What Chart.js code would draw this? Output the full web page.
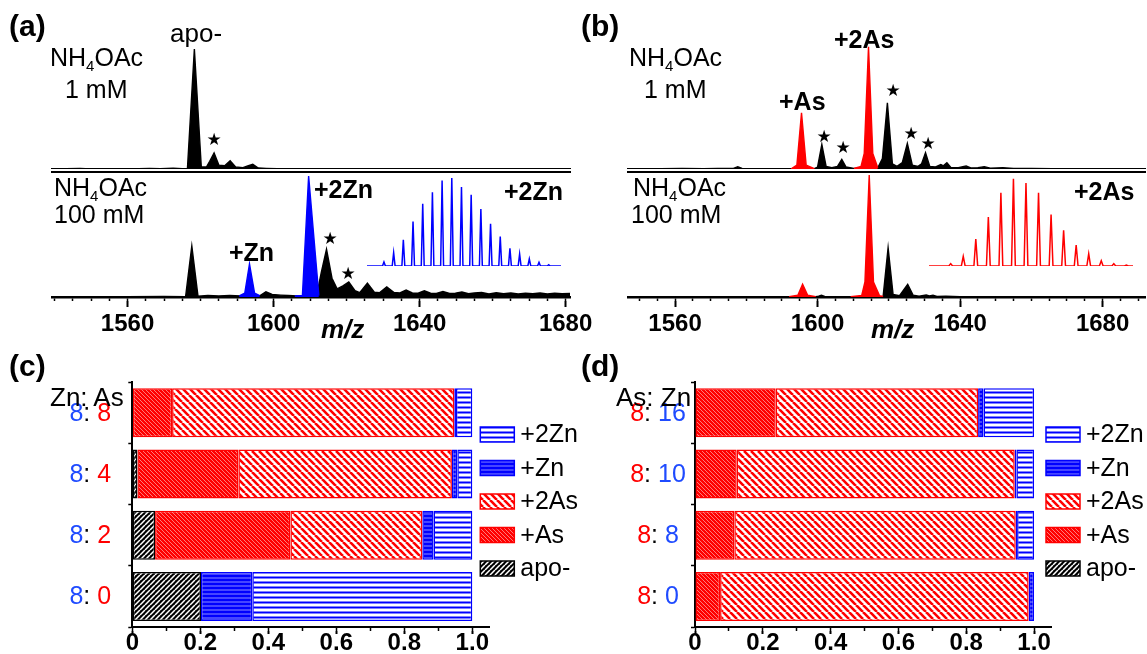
<!DOCTYPE html>
<html lang="en">
<head>
<meta charset="UTF-8">
<title>Zn / As binding - native MS and species fractions</title>
<script src="https://cdn.jsdelivr.net/npm/chart.js"></script>
<style>
    body { margin: 0; background: #fff; }
    #fig { position: relative; width: 1147px; height: 654px; overflow: hidden; background: #fff;
           font-family: Arial, "Liberation Sans", sans-serif; }
    #fig canvas { position: absolute; }
    .t { position: absolute; white-space: nowrap; line-height: 1; font-size: 25px; color: #000; }
    .b { font-weight: bold; }
    .pl { font-weight: bold; font-size: 30px; }
    .mz { font-weight: bold; font-style: italic; font-size: 26px; }
    .star { position: absolute; font-family: "DejaVu Sans", sans-serif; font-size: 17px; line-height: 1;
            transform: translate(-50%, -50%); }
    sub { font-size: 60%; vertical-align: -0.3em; line-height: 0; }
</style>
</head>
<body>
<div id="fig">
    <canvas id="aTop" width="600" height="129" style="left:0;top:40px"></canvas>
    <canvas id="aBot" width="600" height="180" style="left:0;top:170px"></canvas>
    <canvas id="aIso" width="198" height="102" style="left:365px;top:168px"></canvas>
    <canvas id="bTop" width="549" height="129" style="left:598px;top:40px"></canvas>
    <canvas id="bBot" width="549" height="180" style="left:598px;top:170px"></canvas>
    <canvas id="bIso" width="208" height="102" style="left:927px;top:168px"></canvas>
    <canvas id="cBar" width="583" height="300" style="left:0;top:360px"></canvas>
    <canvas id="dBar" width="564" height="300" style="left:583px;top:360px"></canvas>

    <div class="t pl" style="left:9px;top:11px">(a)</div>
    <div class="t" style="left:170px;top:20px;font-size:26px">apo-</div>
    <div class="t" style="left:50px;top:45px">NH<sub>4</sub>OAc</div>
    <div class="t" style="left:65px;top:77px">1 mM</div>
    <div class="t" style="left:54px;top:175px">NH<sub>4</sub>OAc</div>
    <div class="t" style="left:54px;top:202px">100 mM</div>
    <div class="t b" style="left:314px;top:177px">+2Zn</div>
    <div class="t b" style="left:504px;top:179px">+2Zn</div>
    <div class="t b" style="left:229px;top:240px">+Zn</div>
    <div class="t mz" style="left:321px;top:316px">m/z</div>
    <div class="star" style="left:214px;top:139px">★</div>
    <div class="star" style="left:330px;top:238px">★</div>
    <div class="star" style="left:348px;top:273px">★</div>

    <div class="t pl" style="left:581px;top:11px">(b)</div>
    <div class="t b" style="left:834px;top:27px">+2As</div>
    <div class="t" style="left:629px;top:45px">NH<sub>4</sub>OAc</div>
    <div class="t" style="left:644px;top:77px">1 mM</div>
    <div class="t b" style="left:779px;top:89px">+As</div>
    <div class="t" style="left:633px;top:175px">NH<sub>4</sub>OAc</div>
    <div class="t" style="left:631px;top:202px">100 mM</div>
    <div class="t b" style="left:1074px;top:179px">+2As</div>
    <div class="t mz" style="left:871px;top:316px">m/z</div>
    <div class="star" style="left:824px;top:136px">★</div>
    <div class="star" style="left:843px;top:147px">★</div>
    <div class="star" style="left:893px;top:90px">★</div>
    <div class="star" style="left:911px;top:133px">★</div>
    <div class="star" style="left:928px;top:143px">★</div>

    <div class="t pl" style="left:9px;top:351px">(c)</div>
    <div class="t" style="left:50px;top:384px;font-size:26px">Zn: As</div>
    <div class="t pl" style="left:581px;top:351px">(d)</div>
    <div class="t" style="left:616px;top:384px;font-size:26px">As: Zn</div>
</div>

<script>
// ---------- (a) apo-protein, 1 mM / 100 mM NH4OAc : [m/z, relative intensity] ----------
const aRange = [1539.3, 1681.2];
const a1Black = [[1539.3,0],[1547,0.4],[1550,0],[1556,0.3],[1560,0],[1566,0.5],[1569,0.2],[1572.5,0.6],[1575,0.2],
    [1576.4,0.4],[1578.3,93],[1580.2,1.5],[1581.6,1.5],[1582.5,6],[1583.7,12.4],[1585,3],[1586.6,2.5],[1588.1,6.4],
    [1589.6,1.6],[1591.6,1],[1592.9,2.4],[1594.3,3.6],[1595.8,0.8],[1598,0.5],[1601,0.2],[1605,0.3],[1610,0],[1681.2,0]];
const a100Black = [[1539.3,0],[1550,0.3],[1560,0.2],[1570,0.4],[1575.9,0.3],[1577.6,40.8],[1579.3,0.6],[1582,1.2],
    [1585,0.8],[1588,1.2],[1591,0.8],[1596.2,1],[1597.9,4.2],[1599.6,2],[1602,1.5],[1604,1.2],[1606.5,0.8],[1611.8,1.2],
    [1613.1,20],[1614.5,38.2],[1616,15],[1617.4,6.5],[1619,9],[1620.6,12],[1622.3,5],[1623.6,3.5],[1625.7,11],
    [1627.6,3.8],[1629,3.4],[1631,8],[1633,3.6],[1634.6,3.2],[1636.3,5.6],[1638,3.2],[1639.6,3],[1641.3,5],[1643,3],
    [1644.6,2.8],[1646.4,4.4],[1648.2,2.8],[1649.8,3],[1651.6,4],[1653.4,2.6],[1655,3.2],[1657,3.6],[1659,2.4],
    [1661,3.4],[1663,2.6],[1665,3.2],[1667,2.4],[1669,3],[1671,2.6],[1673,3.2],[1675,2.4],[1677,3],[1679,2.6],[1681.2,2.8]];
const a100Zn = [[1590.6,0.8],[1592.1,3],[1593.4,26.4],[1594.8,3],[1596.2,1]];
const a100Zn2 = [[1605.8,0.8],[1607.9,1.2],[1609.6,96.8],[1612.4,1.2]];
// inset: isotope envelope of the +2Zn species (peak heights, % of max)
const zn2Iso = [4.6, 15.2, 29.7, 50.6, 70.7, 83.7, 97, 100, 89.7, 81, 64.6, 47.9, 33.5, 20.2, 13.7, 8, 4.2, 1.5];
const zn2IsoSpan = [-1.75, 18.27];

// ---------- (b) As-bound protein ----------
const bRange = [1546.8, 1691.9];
const b1Black = [[1546.8,0],[1552,0.3],[1556,0.2],[1562,0.4],[1568,0.3],[1572,0.5],[1576.4,0.4],[1577.6,1.8],
    [1578.8,0.4],[1584,0.3],[1590,0.2],[1592.6,0.2],[1599.1,0.3],[1600,1.5],[1601.2,19.1],[1602.4,2],[1604,1],
    [1605.6,2],[1606.8,7.5],[1608,1.5],[1610.2,0.5],[1616.9,1],[1618.2,8],[1619.6,51.4],[1621,4],[1622.3,2],
    [1623.8,5],[1625.2,19.9],[1626.6,3],[1628.2,2],[1629.2,4],[1630.3,12.6],[1631.5,2],[1633,1.5],[1634.6,3.5],
    [1635.3,2.5],[1636.3,4.9],[1637.4,1.2],[1639.5,1],[1641.7,2.4],[1643,0.8],[1645,1],[1646.8,1.8],[1648.5,0.6],
    [1652,1],[1655,0.4],[1660,0.5],[1666,0.2],[1674,0.3],[1691.9,0]];
const b1As = [[1592.6,0.2],[1594.2,3],[1595.5,43.6],[1596.8,3],[1599.1,0.3]];
const b1As2 = [[1610.2,0.5],[1612.2,2],[1613.1,12],[1614.3,94.8],[1615.5,12],[1616.9,1]];
const b100Black = [[1546.8,0],[1556,0.2],[1566,0.3],[1575,0.2],[1585,0.3],[1592,0.2],[1599.5,0.3],[1600.3,0.6],
    [1601.1,1.4],[1602,0.4],[1605,0.3],[1609.3,0.2],[1618.4,0.4],[1619.8,39.4],[1621.2,2],[1623,1],[1625.3,10.2],
    [1626.8,1.5],[1628.5,0.6],[1630.5,1.6],[1631.4,0.8],[1632.4,1.4],[1633.5,0.4],[1636,0.6],[1640,0.2],[1650,0.2],[1691.9,0]];
const b100As = [[1592,0.2],[1594.5,1.5],[1595.8,10.2],[1597.2,1.5],[1599.5,0.3]];
const b100As2 = [[1609.3,0.2],[1612.4,1.2],[1613.3,12],[1614.5,97.6],[1615.7,12],[1617.4,1],[1618.4,0.4]];
const as2Iso = [2.7, 11, 31, 56, 84, 100, 95, 84, 59, 41, 24, 14, 6, 2.7, 1.1];
const as2IsoSpan = [-1.73, 14.53];

// ---------- (c) / (d) species fractions ----------
const cLabels = ['8: 8', '8: 4', '8: 2', '8: 0'];        // Zn : As
const cApo  = [0, 0.015, 0.067, 0.202];
const cAs   = [0.117, 0.297, 0.398, 0];
const cAs2  = [0.830, 0.628, 0.388, 0];
const cZn   = [0.005, 0.016, 0.033, 0.151];
const cZn2  = [0.048, 0.044, 0.114, 0.647];

const dLabels = ['8: 16', '8: 10', '8: 8', '8: 0'];      // As : Zn
const dApo  = [0, 0, 0, 0];
const dAs   = [0.238, 0.123, 0.116, 0.074];
const dAs2  = [0.597, 0.820, 0.830, 0.910];
const dZn   = [0.016, 0.005, 0.004, 0.016];
const dZn2  = [0.149, 0.052, 0.050, 0];

const BLUE = '#0000ff', RED = '#ff0000', BLACK = '#000000';
const LBLUE = '#1f4bff';

Chart.defaults.font.family = 'Arial, "Liberation Sans", sans-serif';
Chart.defaults.color = BLACK;
Chart.defaults.animation = false;
Chart.defaults.events = [];
Chart.defaults.plugins.legend.display = false;
Chart.defaults.plugins.tooltip.enabled = false;

function trace(points, color) {
    return {
        data: points.map(p => ({x: p[0], y: p[1]})),
        borderColor: color, backgroundColor: color, borderWidth: 1.4,
        pointRadius: 0, fill: 'origin', tension: 0
    };
}

// 1 mM trace: only a plain axis line underneath
function topSpectrum(id, range, padL, padR, sets) {
    return new Chart(document.getElementById(id), {
        type: 'line',
        data: {datasets: sets},
        options: {
            responsive: false, maintainAspectRatio: false,
            layout: {padding: {left: padL, right: padR, top: 0, bottom: 0}},
            scales: {
                x: {type: 'linear', min: range[0], max: range[1], ticks: {display: false},
                    grid: {display: false, drawTicks: false}, border: {width: 2, color: BLACK}},
                y: {display: false, min: 0, max: 100}
            }
        }
    });
}

// 100 mM trace: top frame line, bottom axis with minor (x) and major (xMajor) ticks
function bottomSpectrum(id, range, padL, padR, sets) {
    return new Chart(document.getElementById(id), {
        type: 'line',
        data: {datasets: sets},
        options: {
            responsive: false, maintainAspectRatio: false,
            layout: {padding: {left: padL, right: padR, top: 2, bottom: 8.2}},
            scales: {
                x: {type: 'linear', min: range[0], max: range[1],
                    ticks: {display: false, stepSize: 5, includeBounds: false},
                    grid: {drawOnChartArea: false, tickLength: 4, tickWidth: 1.5, tickColor: BLACK},
                    border: {width: 2.5, color: BLACK}},
                xMajor: {type: 'linear', position: 'bottom', weight: 1, min: range[0], max: range[1],
                    ticks: {stepSize: 40, includeBounds: false, autoSkip: false, maxRotation: 0,
                            font: {size: 24, weight: 'bold'}, callback: v => String(v)},
                    grid: {drawOnChartArea: false, tickLength: 6, tickWidth: 2, tickColor: BLACK},
                    border: {display: false}},
                xTop: {type: 'linear', position: 'top', min: range[0], max: range[1], ticks: {display: false},
                    grid: {display: false, drawTicks: false}, border: {width: 2, color: BLACK}},
                y: {display: false, min: 0, max: 100}
            }
        }
    });
}

function isoInset(id, heights, span, yMax, color) {
    const pts = [[span[0], 0]];
    heights.forEach((h, i) => pts.push([i - 0.15, 0], [i, h], [i + 0.15, 0]));
    pts.push([span[1], 0]);
    return new Chart(document.getElementById(id), {
        type: 'line',
        data: {datasets: [{data: pts.map(p => ({x: p[0], y: p[1]})), borderColor: color, borderWidth: 1.5,
                           pointRadius: 0, fill: false, tension: 0}]},
        options: {
            responsive: false, maintainAspectRatio: false,
            layout: {padding: {left: 2, right: 2, top: 2, bottom: 4}},
            scales: {
                x: {type: 'linear', display: false, min: span[0], max: span[1]},
                y: {display: false, min: 0, max: yMax}
            }
        }
    });
}

topSpectrum('aTop', aRange, 52, 30, [trace(a1Black, BLACK)]);
bottomSpectrum('aBot', aRange, 52, 30, [trace(a100Zn, BLUE), trace(a100Zn2, BLUE), trace(a100Black, BLACK)]);
isoInset('aIso', zn2Iso, zn2IsoSpan, 109, BLUE);
topSpectrum('bTop', bRange, 30, 2, [trace(b1As, RED), trace(b1As2, RED), trace(b1Black, BLACK)]);
bottomSpectrum('bBot', bRange, 30, 2, [trace(b100As, RED), trace(b100As2, RED), trace(b100Black, BLACK)]);
isoInset('bIso', as2Iso, as2IsoSpan, 110, RED);

// ---------- hatch patterns for the bars ----------
function hatch(ctx, bg, fg, size, lw, dir) {
    const c = document.createElement('canvas');
    c.width = c.height = size;
    const g = c.getContext('2d');
    g.fillStyle = bg;
    g.fillRect(0, 0, size, size);
    g.strokeStyle = fg;
    g.lineWidth = lw;
    g.beginPath();
    if (dir === 'h') {
        g.moveTo(0, size / 2); g.lineTo(size, size / 2);
    } else {
        for (const o of [-size, 0, size]) {
            if (dir === '/') { g.moveTo(o, size); g.lineTo(o + size, 0); }
            else { g.moveTo(o, 0); g.lineTo(o + size, size); }
        }
    }
    g.stroke();
    return ctx.createPattern(c, 'repeat');
}

function patterns(ctx) {
    return {
        apo: hatch(ctx, '#000000', '#ffffff', 5, 1.5, '/'),
        As:  hatch(ctx, RED, '#ff7a7a', 4, 1, '\\'),
        As2: hatch(ctx, '#ffffff', RED, 7, 2.6, '\\'),
        Zn:  hatch(ctx, BLUE, '#8c8cff', 4, 1, 'h'),
        Zn2: hatch(ctx, '#ffffff', BLUE, 5, 2, 'h')
    };
}

// two-coloured "n: m" category labels left of the bars
const ratioLabels = {
    id: 'ratioLabels',
    afterDraw(chart, args, o) {
        const ctx = chart.ctx, ys = chart.scales.y;
        ctx.save();
        ctx.font = '25px Arial, "Liberation Sans", sans-serif';
        ctx.textBaseline = 'middle';
        chart.data.labels.forEach((lab, i) => {
            const [l, r] = lab.split(':');
            const parts = [[l, o.colors[0]], [':', BLACK], [r, o.colors[1]]];
            const w = parts.reduce((s, p) => s + ctx.measureText(p[0]).width, 0);
            let x = chart.chartArea.left + o.cx - w / 2;
            const y = ys.getPixelForValue(i) + 1;
            parts.forEach(([t, c]) => {
                ctx.fillStyle = c;
                ctx.fillText(t, x, y);
                x += ctx.measureText(t).width;
            });
        });
        ctx.restore();
    }
};

// legend drawn over the right end of the plot, last dataset on top
const sideLegend = {
    id: 'sideLegend',
    afterDraw(chart, args, o) {
        const ctx = chart.ctx, ca = chart.chartArea;
        ctx.save();
        ctx.font = '25px Arial, "Liberation Sans", sans-serif';
        ctx.textBaseline = 'middle';
        chart.data.datasets.slice().reverse().forEach((ds, i) => {
            const x = ca.right + o.dx, y = ca.top + o.dy + i * o.step;
            ctx.fillStyle = ds.backgroundColor;
            ctx.fillRect(x, y - 7.5, 34, 15);
            ctx.strokeStyle = ds.borderColor;
            ctx.lineWidth = 1.5;
            ctx.strokeRect(x, y - 7.5, 34, 15);
            ctx.fillStyle = BLACK;
            ctx.fillText(ds.label, x + 40, y + 1);
        });
        ctx.restore();
    }
};

function bars(label, data, fill, edge) {
    return {label: label, data: data, backgroundColor: fill, borderColor: edge, borderWidth: 1.5, borderSkipped: false};
}

function fractionChart(id, labels, series, padL, padR, labelColors, labelCx, legendDx) {
    const el = document.getElementById(id);
    const p = patterns(el.getContext('2d'));
    return new Chart(el, {
        type: 'bar',
        data: {
            labels: labels,
            datasets: [
                bars('apo-', series[0], p.apo, BLACK),
                bars('+As', series[1], p.As, RED),
                bars('+2As', series[2], p.As2, RED),
                bars('+Zn', series[3], p.Zn, BLUE),
                bars('+2Zn', series[4], p.Zn2, BLUE)
            ]
        },
        options: {
            indexAxis: 'y',
            responsive: false, maintainAspectRatio: false,
            layout: {padding: {left: padL, right: padR, top: 22, bottom: 6.8}},
            datasets: {bar: {categoryPercentage: 0.8, barPercentage: 1}},
            scales: {
                x: {stacked: true, min: 0, max: 1.05,
                    ticks: {display: false, stepSize: 0.1, includeBounds: false},
                    grid: {drawOnChartArea: false, tickLength: 4, tickWidth: 1.5, tickColor: BLACK},
                    border: {width: 2, color: BLACK}},
                xMajor: {type: 'linear', position: 'bottom', weight: 1, min: 0, max: 1.05,
                    ticks: {stepSize: 0.2, includeBounds: false, autoSkip: false, maxRotation: 0, padding: 0,
                            font: {size: 24, weight: 'bold', lineHeight: 0.8},
                            callback: v => (v === 0 ? '0' : v.toFixed(1))},
                    grid: {drawOnChartArea: false, tickLength: 3, tickWidth: 2, tickColor: BLACK},
                    border: {display: false}},
                y: {stacked: true, ticks: {display: false},
                    grid: {drawOnChartArea: false, tickLength: 4, tickWidth: 1.5, tickColor: BLACK},
                    border: {width: 2, color: BLACK}}
            },
            plugins: {
                ratioLabels: {colors: labelColors, cx: labelCx},
                sideLegend: {dx: legendDx, dy: 52.5, step: 33.5}
            }
        },
        plugins: [ratioLabels, sideLegend]
    });
}

fractionChart('cBar', cLabels, [cApo, cAs, cAs2, cZn, cZn2], 128.3, 93.7, [LBLUE, RED], -42, -9);
fractionChart('dBar', dLabels, [dApo, dAs, dAs2, dZn, dZn2], 108, 96, [RED, LBLUE], -37, -5);
</script>
</body>
</html>
